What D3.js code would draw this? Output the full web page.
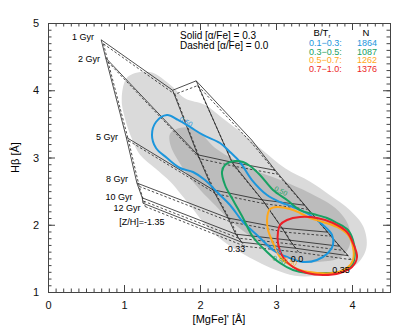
<!DOCTYPE html>
<html>
<head>
<meta charset="utf-8">
<script src="https://cdn.jsdelivr.net/npm/d3@7"></script>
<style>
  body { margin: 0; background: #fff; }
  svg text { font-family: "Liberation Sans", Arial, sans-serif; }
</style>
</head>
<body>
<div id="chart"></div>
<script>
// model grid ages and metallicities
let ages = ["1 Gyr", "2 Gyr", "5 Gyr", "8 Gyr", "10 Gyr", "12 Gyr"];
let metals = ["-1.35", "-0.33", "0.0", "0.35"];

// solid grid [alpha/Fe]=0.3 : one array per [Z/H], values per age
let solidMg = [
  [0.70, 0.76, 1.03, 1.17, 1.24, 1.25],
  [1.64, 1.97, 2.17, 2.37, 2.47, 2.55],
  [1.95, 2.42, 2.82, 3.08, 3.18, 3.26],
  [2.68, 2.99, 3.38, 3.68, 3.84, 3.95]
];
let solidHb = [
  [4.75, 4.48, 3.30, 2.62, 2.40, 2.32],
  [4.00, 3.04, 2.52, 2.10, 1.86, 1.74],
  [4.14, 2.93, 2.37, 1.95, 1.77, 1.65],
  [3.26, 2.81, 2.29, 1.89, 1.68, 1.54]
];
// dashed grid [alpha/Fe]=0.0
let dashMg = [
  [0.73, 0.79, 1.06, 1.20, 1.26, 1.28],
  [1.67, 2.00, 2.21, 2.41, 2.51, 2.59],
  [1.97, 2.45, 2.86, 3.12, 3.22, 3.30],
  [2.70, 3.02, 3.42, 3.72, 3.88, 3.99]
];
let dashHb = [
  [4.69, 4.42, 3.25, 2.57, 2.35, 2.27],
  [3.94, 2.98, 2.46, 2.04, 1.80, 1.68],
  [4.07, 2.87, 2.31, 1.89, 1.71, 1.59],
  [3.19, 2.75, 2.23, 1.83, 1.62, 1.48]
];

// grey density regions
let lightMg = [1.05,1.34,1.63,1.80,2.07,2.29,2.59,2.82,3.12,3.45,3.71,3.97,4.15,4.19,4.07,3.84,3.55,3.25,2.99,2.76,2.53,2.29,2.07,1.87,1.76,1.61,1.41,1.21,1.11,1.01,0.97];
let lightHb = [4.20,4.27,4.06,3.88,3.78,3.59,3.33,3.11,2.84,2.64,2.44,2.22,1.97,1.66,1.42,1.30,1.24,1.24,1.33,1.45,1.59,1.77,2.00,2.29,2.44,2.64,2.84,3.04,3.26,3.59,3.88];
let darkMg = [1.61,1.80,2.00,2.20,2.46,2.72,3.05,3.45,3.78,3.95,3.97,3.84,3.58,3.32,3.05,2.82,2.59,2.39,2.20,2.00,1.84,1.71,1.61];
let darkHb = [3.36,3.45,3.36,3.14,2.96,2.81,2.67,2.47,2.25,2.00,1.70,1.51,1.45,1.45,1.55,1.70,1.89,2.07,2.29,2.52,2.74,2.96,3.19];

// coloured contours per B/T bin
let blueMg = [1.566,1.711,1.868,2.039,2.263,2.395,2.526,2.684,2.882,3.053,3.224,3.447,3.618,3.737,3.750,3.684,3.539,3.355,3.145,2.961,2.763,2.566,2.395,2.237,2.066,1.908,1.737,1.566,1.421,1.368,1.421];
let blueHb = [3.632,3.558,3.454,3.335,3.216,3.082,2.933,2.665,2.442,2.338,2.264,2.145,1.996,1.848,1.699,1.580,1.476,1.446,1.520,1.625,1.833,2.041,2.294,2.472,2.665,2.784,2.844,2.993,3.141,3.335,3.528];
let greenMg = [2.461,2.329,2.289,2.329,2.434,2.566,2.697,2.882,3.053,3.224,3.408,3.618,3.842,4.000,4.039,4.013,3.947,3.803,3.671,3.487,3.316,3.145,2.961,2.789,2.658,2.566];
let greenHb = [2.948,2.888,2.784,2.591,2.368,2.100,1.818,1.595,1.431,1.327,1.283,1.283,1.297,1.401,1.580,1.773,1.922,2.026,2.100,2.160,2.219,2.368,2.517,2.740,2.874,2.933];
let orangeMg = [2.895,2.921,3.013,3.184,3.316,3.447,3.618,3.803,3.947,4.013,4.013,3.934,3.750,3.539,3.316,3.145,3.053,2.961,2.895,2.882];
let orangeHb = [2.175,2.234,2.264,2.234,2.175,2.100,2.041,1.967,1.848,1.669,1.476,1.357,1.283,1.283,1.327,1.431,1.520,1.729,1.922,2.071];
let redMg = [3.053,3.145,3.316,3.539,3.750,3.934,4.013,4.066,4.000,3.842,3.618,3.408,3.224,3.092,3.026,3.026];
let redHb = [1.996,2.071,2.115,2.100,2.026,1.892,1.729,1.520,1.372,1.283,1.253,1.283,1.372,1.520,1.729,1.892];

// legend
let binLabels = ["0.1\u22120.3:", "0.3\u22120.5:", "0.5\u22120.7:", "0.7\u22121.0:"];
let binCounts = ["1864", "1087", "1262", "1376"];
let binColors = ["#1c96dc", "#17a263", "#ffa71a", "#ec1f28"];

let xTicks = [0, 1, 2, 3, 4];
let yTicks = [1, 2, 3, 4, 5];

let width = 415, height = 332;
let margin = {top: 23, right: 25, bottom: 40, left: 48};
let innerW = width - margin.left - margin.right;
let innerH = height - margin.top - margin.bottom;

let svg = d3.select("#chart").append("svg")
  .attr("width", width).attr("height", height);

let g = svg.append("g").attr("transform", `translate(${margin.left},${margin.top})`);

let x = d3.scaleLinear().domain([0, 4.5]).range([0, innerW]);
let y = d3.scaleLinear().domain([1, 5]).range([innerH, 0]);

let zip = (a, b) => a.map((v, i) => [v, b[i]]);
let closedLine = d3.line().x(d => x(d[0])).y(d => y(d[1])).curve(d3.curveCatmullRomClosed.alpha(0.5));
let straight = d3.line().x(d => x(d[0])).y(d => y(d[1]));

// grey regions
g.append("path").attr("d", closedLine(zip(lightMg, lightHb))).attr("fill", "#dadada");
g.append("path").attr("d", closedLine(zip(darkMg, darkHb))).attr("fill", "#bcbcbc");

// model grids
function drawGrid(mg, hb, dash) {
  let grp = g.append("g").attr("fill", "none").attr("stroke", "#222")
    .attr("stroke-width", 0.8).attr("stroke-dasharray", dash);
  // constant metallicity
  mg.forEach((row, i) => {
    grp.append("path").attr("d", straight(zip(row, hb[i])));
  });
  // constant age
  ages.forEach((a, j) => {
    grp.append("path").attr("d", straight(mg.map((row, i) => [row[j], hb[i][j]])));
  });
}
drawGrid(dashMg, dashHb, "2.5,2");
drawGrid(solidMg, solidHb, null);

// contours
[[blueMg, blueHb], [greenMg, greenHb], [orangeMg, orangeHb], [redMg, redHb]].forEach((c, i) => {
  g.append("path").attr("d", closedLine(zip(c[0], c[1])))
    .attr("fill", "none").attr("stroke", binColors[i]).attr("stroke-width", 2);
});

// small contour level labels
let lvl = [[1.80, 3.50, 28, 0], [3.05, 2.47, 25, 1], [3.03, 1.44, 25, 1], [2.98, 1.60, 30, 0], [3.18, 1.42, 20, 2]];
lvl.forEach(d => {
  g.append("text").attr("transform", `translate(${x(d[0])},${y(d[1])}) rotate(${d[2]})`)
    .attr("font-size", 7).attr("fill", binColors[d[3]]).attr("text-anchor", "middle")
    .text("0.50");
});

// axes: ticks inward on all sides
let minorX = d3.range(0, 4.51, 0.1);
let minorY = d3.range(1, 5.01, 0.1);
function tickAxis(axisFn, scale, major, minor, transform, labels) {
  g.append("g").attr("transform", transform)
    .call(axisFn(scale).tickValues(minor).tickSize(-3.5).tickFormat(""))
    .call(s => s.select(".domain").remove());
  let a = g.append("g").attr("transform", transform)
    .call(axisFn(scale).tickValues(major).tickSize(-7).tickPadding(labels ? 9 : 0)
      .tickFormat(labels ? d3.format("d") : ""));
  a.select(".domain").attr("stroke", "#444");
  a.selectAll("text").attr("font-size", 11).attr("fill", "#111");
  return a;
}
tickAxis(d3.axisBottom, x, xTicks, minorX, `translate(0,${innerH})`, true);
tickAxis(d3.axisTop, x, xTicks, minorX, "translate(0,0)", false);
tickAxis(d3.axisLeft, y, yTicks, minorY, "translate(0,0)", true);
tickAxis(d3.axisRight, y, yTicks, minorY, `translate(${innerW},0)`, false);
g.selectAll(".tick line").attr("stroke", "#444");

// axis titles
svg.append("text").attr("x", margin.left + x(2.25)).attr("y", 323)
  .attr("text-anchor", "middle").attr("font-size", 11).text("[MgFe]' [\u00c5]");
svg.append("text").attr("transform", `translate(19,${margin.top + y(3)}) rotate(-90)`)
  .attr("text-anchor", "middle").attr("font-size", 11).text("H\u03b2 [\u00c5]");

// grid labels
let ageLabelPos = [[83, 40], [89, 62], [107, 140], [117, 182], [119, 200], [127, 211]];
ages.forEach((a, i) => {
  svg.append("text").attr("x", ageLabelPos[i][0]).attr("y", ageLabelPos[i][1])
    .attr("text-anchor", "middle").attr("font-size", 9).text(a);
});
let zLabelPos = [[142, 225], [235, 252], [297, 262], [341, 273]];
metals.forEach((m, i) => {
  svg.append("text").attr("x", zLabelPos[i][0]).attr("y", zLabelPos[i][1])
    .attr("text-anchor", "middle").attr("font-size", 9)
    .text(i === 0 ? "[Z/H]=" + m : m);
});

// legends
svg.append("text").attr("x", 180).attr("y", 39).attr("font-size", 10).text("Solid  [\u03b1/Fe] = 0.3");
svg.append("text").attr("x", 180).attr("y", 49).attr("font-size", 10).text("Dashed [\u03b1/Fe] = 0.0");
let bt = svg.append("text").attr("x", 322).attr("y", 36).attr("text-anchor", "middle").attr("font-size", 9.5);
bt.append("tspan").text("B/T");
bt.append("tspan").attr("font-size", 6).attr("dy", 2).text("r");
svg.append("text").attr("x", 366).attr("y", 36).attr("text-anchor", "middle").attr("font-size", 9.5).text("N");
binLabels.forEach((b, i) => {
  svg.append("text").attr("x", 309).attr("y", 46 + i * 8.6).attr("font-size", 9)
    .attr("fill", binColors[i]).text(b);
  svg.append("text").attr("x", 377).attr("y", 46 + i * 8.6).attr("font-size", 9)
    .attr("text-anchor", "end").attr("fill", binColors[i]).text(binCounts[i]);
});
</script>
</body>
</html>
